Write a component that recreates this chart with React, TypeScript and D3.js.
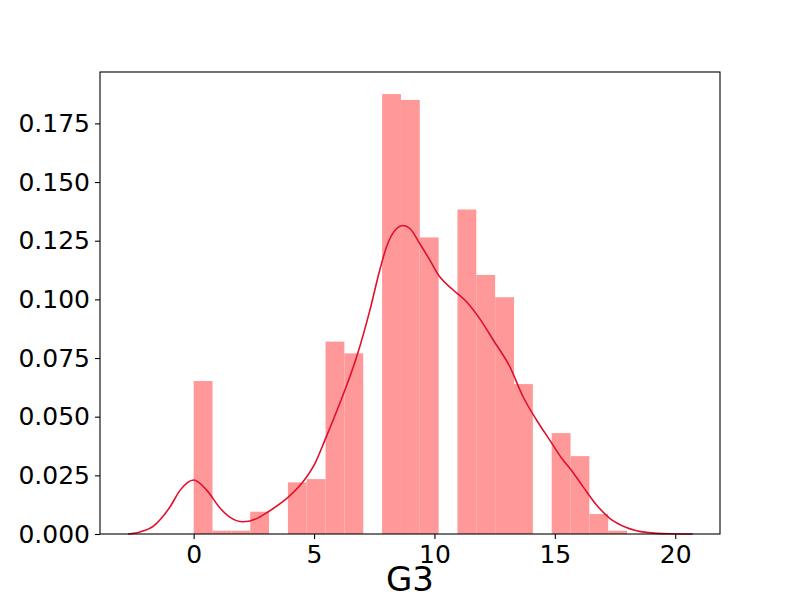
import React, { useEffect, useRef } from "react";
import * as d3 from "d3";

// histogram: 23 equal bins over [0, 18], density-normalised
const binRange: [number, number] = [0, 18];
const binDensity = [
  0.0652, 0.0014, 0.0014, 0.0095, 0, 0.022, 0.0234, 0.082, 0.077, 0, 0.1875,
  0.185, 0.1264, 0, 0.1383, 0.1104, 0.1009, 0.0639, 0, 0.043, 0.0332, 0.0085,
  0.0014,
];

// kde curve
const kdeX = [
  -2.72, -2.2, -1.67, -0.98, -0.56, 0, 0.54, 1.1, 1.5, 2.05, 2.55, 3.1, 3.79,
  4.49, 5.04, 5.45, 6.07, 6.77, 7.32, 7.73, 8.01, 8.43, 8.7, 8.98, 9.39, 9.81,
  10.22, 10.78, 11.33, 11.88, 12.44, 13.13, 13.68, 14.24, 14.79, 15.34, 15.62,
  16.17, 16.73, 17.28, 17.97, 18.8, 19.77, 20.73,
];
const kdeY = [
  0, 0.001, 0.0034, 0.0116, 0.0187, 0.023, 0.0187, 0.011, 0.0072, 0.0052,
  0.0063, 0.0095, 0.0145, 0.0216, 0.0301, 0.04, 0.0557, 0.0755, 0.0954, 0.1125,
  0.1224, 0.1302, 0.1315, 0.1302, 0.1238, 0.1167, 0.1096, 0.104, 0.099, 0.0918,
  0.0827, 0.0713, 0.0585, 0.0486, 0.04, 0.0315, 0.028, 0.0202, 0.0124, 0.0067,
  0.0028, 0.0007, 0.0001, 0,
];

const xTicks = [0, 5, 10, 15, 20];
const yTicks = [0, 0.025, 0.05, 0.075, 0.1, 0.125, 0.15, 0.175];
const xLabel = "G3";

const App = () => {
  const svgRef = useRef<SVGSVGElement>(null);

  useEffect(() => {
    const width = 800;
    const height = 600;
    const margin = { top: 72, right: 80, bottom: 66, left: 100 };
    const font = "DejaVu Sans, sans-serif";

    const svg = d3.select(svgRef.current);
    svg.selectAll("*").remove();
    svg.attr("width", width).attr("height", height);

    const x = d3.scaleLinear()
      .domain([-3.89, 21.86])
      .range([margin.left, width - margin.right]);
    const y = d3.scaleLinear()
      .domain([0, 0.1969])
      .range([height - margin.bottom, margin.top]);

    // bin index -> data value
    const edge = d3.scaleLinear().domain([0, binDensity.length]).range(binRange);

    svg.append("g")
      .selectAll("rect")
      .data(binDensity)
      .join("rect")
      .attr("x", (d, i) => x(edge(i)))
      .attr("width", (d, i) => x(edge(i + 1)) - x(edge(i)))
      .attr("y", d => y(d))
      .attr("height", d => y(0) - y(d))
      .attr("fill", "#ff9999");

    const line = d3.line<number>()
      .x((d, i) => x(kdeX[i]))
      .y(d => y(d))
      .curve(d3.curveMonotoneX);

    svg.append("path")
      .datum(kdeY)
      .attr("d", line)
      .attr("fill", "none")
      .attr("stroke", "#e0102c")
      .attr("stroke-width", 1.6);

    // frame
    svg.append("rect")
      .attr("x", margin.left)
      .attr("y", margin.top)
      .attr("width", width - margin.left - margin.right)
      .attr("height", height - margin.top - margin.bottom)
      .attr("fill", "none")
      .attr("stroke", "black")
      .attr("stroke-width", 1.1);

    // X axis
    const gx = svg.append("g")
      .attr("transform", `translate(0,${height - margin.bottom})`)
      .call(d3.axisBottom(x).tickValues(xTicks).tickSize(5).tickPadding(6).tickFormat(d3.format("d")));
    gx.select(".domain").remove();
    gx.selectAll("line").attr("stroke", "black").attr("stroke-width", 1.1);
    gx.selectAll("text")
      .attr("fill", "black")
      .style("font-family", font)
      .style("font-size", "25px");

    // Y axis
    const gy = svg.append("g")
      .attr("transform", `translate(${margin.left},0)`)
      .call(d3.axisLeft(y).tickValues(yTicks).tickSize(5).tickPadding(5).tickFormat(d3.format(".3f")));
    gy.select(".domain").remove();
    gy.selectAll("line").attr("stroke", "black").attr("stroke-width", 1.1);
    gy.selectAll("text")
      .attr("fill", "black")
      .style("font-family", font)
      .style("font-size", "25px");

    // X label, kept just inside the bottom edge
    svg.append("text")
      .attr("x", (margin.left + width - margin.right) / 2)
      .attr("y", 591)
      .attr("text-anchor", "middle")
      .style("font-family", font)
      .style("font-size", "34px")
      .text(xLabel);
  }, []);

  return (
    <div style={{ position: "absolute", left: 0, top: 0, background: "white" }}>
      <svg ref={svgRef} style={{ display: "block" }}></svg>
    </div>
  );
};

export default App;
